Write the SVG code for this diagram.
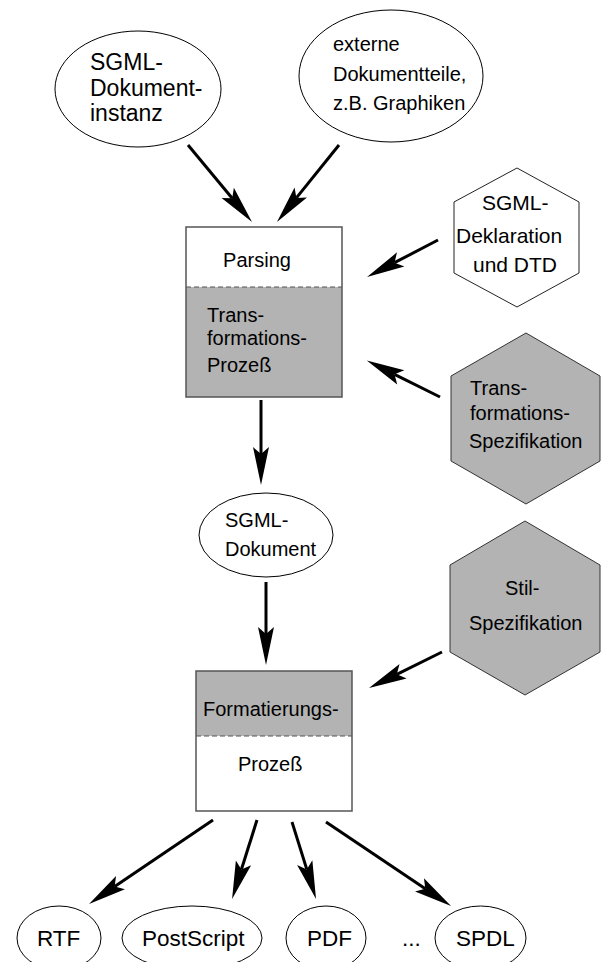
<svg xmlns="http://www.w3.org/2000/svg" width="608" height="962" viewBox="0 0 608 962">
<style>
text{font-family:"Liberation Sans",Arial,sans-serif;fill:#000}
.t20{font-size:20px}
.t21{font-size:21px}
.t22{font-size:22.5px}
.t23{font-size:23px}
.ell{fill:#fff;stroke:#000;stroke-width:1}
.hexw{fill:#fff;stroke:#222;stroke-width:1}
.hexg{fill:#b3b3b3;stroke:#333;stroke-width:1}
.box{fill:none;stroke:#555;stroke-width:1.5}
.gray{fill:#b3b3b3;stroke:none}
.dash{stroke:#555;stroke-width:1;stroke-dasharray:5,3;fill:none}
.arr{stroke:#000;stroke-width:3;fill:none;marker-end:url(#ah)}
</style>
<defs>
<marker id="ah" markerUnits="userSpaceOnUse" orient="auto" refX="0" refY="0" markerWidth="50" markerHeight="30" viewBox="-10 -10 50 20" overflow="visible">
<path d="M31,0 L-7,-8 L0,0 L-7,8 Z" fill="#000"/>
</marker>
</defs>

<g id="node-sgml-instanz">
<ellipse class="ell" cx="138" cy="89" rx="83" ry="58"/>
<text class="t23" x="90" y="70">SGML-</text>
<text class="t23" x="90" y="96">Dokument-</text>
<text class="t23" x="90" y="121">instanz</text>
</g>

<g id="node-externe">
<ellipse class="ell" cx="391" cy="76" rx="92" ry="66"/>
<text class="t20" x="333" y="51">externe</text>
<text class="t20" x="333" y="81">Dokumentteile,</text>
<text class="t20" x="333" y="110">z.B. Graphiken</text>
</g>

<g id="node-parsing">
<rect class="gray" x="186" y="287" width="156" height="110"/>
<line class="dash" x1="186" y1="287" x2="342" y2="287"/>
<rect class="box" x="186" y="227" width="156" height="170"/>
<text class="t20" x="257" y="267" text-anchor="middle">Parsing</text>
<text class="t20" x="207" y="322">Trans-</text>
<text class="t20" x="207" y="345">formations-</text>
<text class="t20" x="207" y="372">Prozeß</text>
</g>

<g id="node-deklaration">
<polygon class="hexw" points="517,168 579,202 579,273 517,307 454,273 454,202"/>
<text class="t21" x="482" y="210">SGML-</text>
<text class="t21" x="456" y="243">Deklaration</text>
<text class="t21" x="473" y="272">und DTD</text>
</g>

<g id="node-transspez">
<polygon class="hexg" points="526,333 600,376 600,461 526,504 451,461 451,376"/>
<text class="t20" x="470" y="395">Trans-</text>
<text class="t20" x="470" y="420">formations-</text>
<text class="t20" x="469" y="448">Spezifikation</text>
</g>

<g id="node-sgml-dokument">
<ellipse class="ell" cx="266" cy="535" rx="67" ry="42"/>
<text class="t20" x="225" y="527">SGML-</text>
<text class="t20" x="225" y="556">Dokument</text>
</g>

<g id="node-stilspez">
<polygon class="hexg" points="525,521 600,565 600,652 525,695 450,652 450,565"/>
<text class="t20" x="505" y="595">Stil-</text>
<text class="t20" x="469" y="630">Spezifikation</text>
</g>

<g id="node-formatierung">
<rect class="gray" x="196" y="671" width="156" height="65"/>
<line class="dash" x1="196" y1="736" x2="352" y2="736"/>
<rect class="box" x="196" y="671" width="156" height="140"/>
<text class="t20" x="203" y="716">Formatierungs-</text>
<text class="t20" x="238" y="771">Prozeß</text>
</g>

<g id="node-rtf">
<ellipse class="ell" cx="59" cy="938" rx="42" ry="32"/>
<text class="t22" x="37" y="946">RTF</text>
</g>
<g id="node-postscript">
<ellipse class="ell" cx="192" cy="938" rx="70" ry="32"/>
<text class="t22" x="142" y="946">PostScript</text>
</g>
<g id="node-pdf">
<ellipse class="ell" cx="326" cy="938" rx="40" ry="32"/>
<text class="t22" x="307" y="946">PDF</text>
</g>
<g id="node-dots">
<text class="t22" x="402" y="946">...</text>
</g>
<g id="node-spdl">
<ellipse class="ell" cx="480.5" cy="938" rx="45.5" ry="32"/>
<text class="t22" x="456" y="946">SPDL</text>
</g>

<g id="connectors">
<line class="arr" x1="188" y1="145" x2="232.2" y2="198.2"/>
<line class="arr" x1="339" y1="145" x2="296.4" y2="197.9"/>
<line class="arr" x1="438" y1="240" x2="394.5" y2="262.7"/>
<line class="arr" x1="440" y1="397" x2="394.5" y2="374.3"/>
<line class="arr" x1="261" y1="400" x2="261" y2="454"/>
<line class="arr" x1="266" y1="582" x2="266" y2="634"/>
<line class="arr" x1="442" y1="652" x2="396.8" y2="674.3"/>
<line class="arr" x1="213" y1="820" x2="114.7" y2="886.6"/>
<line class="arr" x1="257" y1="820" x2="241.4" y2="869.5"/>
<line class="arr" x1="292" y1="822" x2="306.8" y2="869.4"/>
<line class="arr" x1="326" y1="822" x2="425.3" y2="888.7"/>
</g>
</svg>
